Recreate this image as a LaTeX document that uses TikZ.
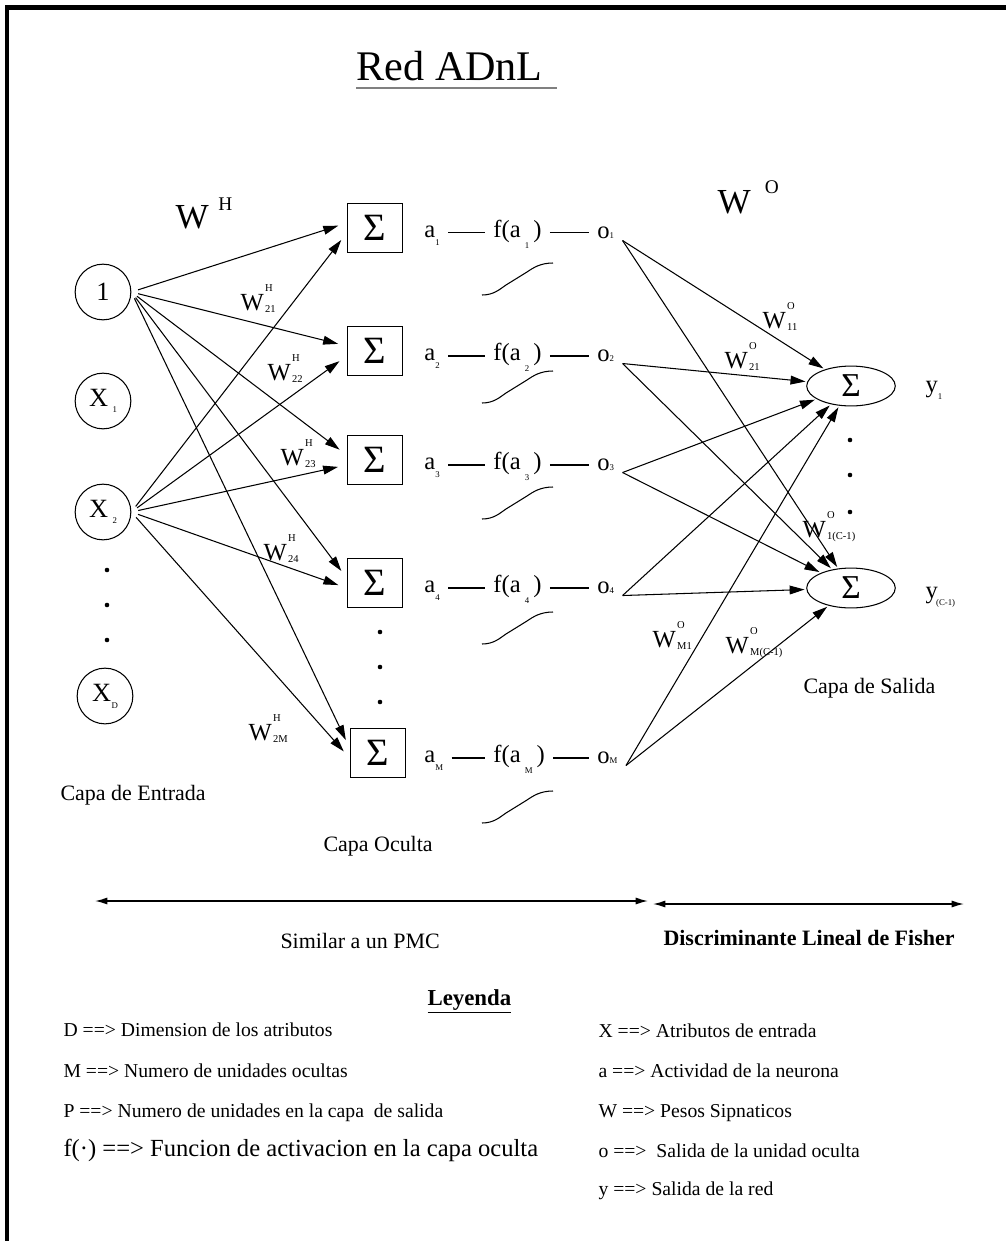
\documentclass[tikz,border=0pt]{standalone}
\usepackage{fontspec}
\setmainfont{Liberation Serif}
\usetikzlibrary{arrows.meta,shapes.geometric,positioning}

\newcommand{\fsz}[1]{\fontsize{#1}{#1}\selectfont}
\newcommand{\sbs}[2][3pt]{\raisebox{-#1}{\fsz{5}#2}}
\newcommand{\wlab}[2]{W\hspace{0.8pt}\rlap{\raisebox{10.5pt}{\fsz{6}#1}}\raisebox{-1.5pt}{\fsz{6}#2}}

\tikzset{
  neuron/.style={draw,circle,minimum size=31.7pt,inner sep=0pt,font=\fsz{15}},
  sumbox/.style={draw,minimum width=31.7pt,minimum height=27.8pt,inner sep=0pt,font=\fsz{22}},
  sumout/.style={draw,ellipse,minimum width=50.4pt,minimum height=22.7pt,inner sep=0pt,font=\fsz{19}},
  lbl/.style={anchor=base west,inner xsep=4.5pt,inner ysep=1pt,font=\fsz{14}},
  wlbl/.style={anchor=base west,inner sep=0pt,font=\fsz{14}},
  txt/.style={anchor=base west,inner sep=0pt,font=\fsz{12.5}},
  leg/.style={anchor=base west,inner sep=0pt,font=\fsz{11.2}},
  wt/.style={-{Triangle[length=8.5pt,width=5pt]},shorten <=4pt,shorten >=5pt},
  wto/.style={-{Triangle[length=8.5pt,width=5pt]},shorten >=1pt},
  dimarrow/.style={{Latex[length=7pt,width=4pt]}-{Latex[length=7pt,width=4pt]},line width=0.8pt},
}

\begin{document}
\begin{tikzpicture}[x=0.02cm,y=-0.02cm,line width=0.6pt]
\useasboundingbox (0,0) rectangle (1006,1241);
% marco
\draw[line width=0.1cm] (7,1250) -- (7,7) -- (1015,7);

% titulo
\node[anchor=base west,inner sep=0pt,font=\fsz{24}] (title) at (356,80) {Red ADnL};
\draw[gray,line width=1.4pt] ([yshift=-4.5pt]title.base west) -- ([xshift=8pt,yshift=-4.5pt]title.base east);

% capa de entrada
\node[neuron] (x0) at (103,292) {1};
\node[neuron] (x1) at (103,401) {X\,\sbs{1}};
\node[neuron] (x2) at (103,512) {X\,\sbs{2}};
\node[neuron] (xD) at (105,696) {X\kern0.3pt\sbs[4pt]{D}};
\foreach \y in {570,605,640} \fill (107,\y) circle (1.3pt);

% capa oculta
\foreach \i/\yc/\t/\xb in {1/228/263/375,2/351/371/375,3/460/487/375,4/583/612/375,M/753/791/378}{
  \node[sumbox] (h\i) at (\xb,\yc) {Σ};
  \node[lbl] (a\i) at (416,\yc+9) {a\sbs[5pt]{\i}};
  \node[lbl] (f\i) at (485,\yc+9) {f(a\,\sbs[6.5pt]{\i}\,)};
  \node[lbl] (o\i) at (589,\yc+10) {o\sbs[0pt]{\i}};
  \draw (a\i.mid east) -- (a\i.mid east -| f\i.west);
  \draw (f\i.mid east) -- (f\i.mid east -| o\i.west);
  \draw (482,\t+32) .. controls (494,\t+32) and (500,\t+26) .. (506,\t+22) -- (527,\t+9) .. controls (533,\t+5) and (540,\t) .. (553,\t);
}
\foreach \y in {632,667,702} \fill (380,\y) circle (1.3pt);

% capa de salida
\node[sumout] (s1) at (851,386) {Σ};
\node[sumout] (sC) at (851,588) {Σ};
\node[wlbl] (y1) at (925,392) {y\sbs[4.5pt]{1}};
\node[wlbl] (yC) at (925,598) {y\kern-1pt\sbs[4.5pt]{(C-1)}};
\foreach \y in {440,475,512} \fill (850,\y) circle (1.3pt);

% pesos
\node[anchor=base west,inner sep=0pt,font=\fsz{20}] (wH) at (175,228) {W\hspace{5.5pt}\raisebox{10pt}{\fsz{11}H}};
\node[anchor=base west,inner sep=0pt,font=\fsz{20}] (wO) at (717,213) {W\hspace{8pt}\raisebox{11pt}{\fsz{11}O}};
\node[wlbl] (wh21) at (240,310) {\wlab{H}{21}};
\node[wlbl] (wh22) at (267,380) {\wlab{H}{22}};
\node[wlbl] (wh23) at (280,465) {\wlab{H}{23}};
\node[wlbl] (wh24) at (263,560) {\wlab{H}{24}};
\node[wlbl] (wh2M) at (248,740) {\wlab{H}{2M}};
\node[wlbl] (wo11) at (762,328) {\wlab{O}{11}};
\node[wlbl] (wo21) at (724,368) {\wlab{O}{21}};
\node[wlbl] (wo1C) at (802,537) {\wlab{O}{1(C-1)}};
\node[wlbl] (woM1) at (652,647) {\wlab{O}{M1}};
\node[wlbl] (woMC) at (725,653) {\wlab{O}{M(C-1)}};

% conexiones
\foreach \i in {1,2,3,4,M}{
  \draw[wt] (x0.east) -- (h\i.170);
  \draw[wt] (x2.east) -- (h\i.190);
  \draw[wto] (o\i.south east) -- (s1);
  \draw[wto] (o\i.south east) -- (sC);
}

% rotulos
\node[txt] (entrada) at (60,800) {Capa de Entrada};
\node[txt] (oculta) at (323,851) {Capa Oculta};
\node[txt] (salida) at (803,693) {Capa de Salida};

\coordinate (pmcL) at (95,901);
\coordinate (pmcR) at (648,901);
\coordinate (fshL) at (653,904);
\coordinate (fshR) at (964,904);
\draw[dimarrow] (pmcL) -- (pmcR);
\draw[dimarrow] (fshL) -- (fshR);
\node[txt] (pmc) at (280,948) {Similar a un PMC};
\node[txt,font=\fsz{12.5}\bfseries] (fisher) at (663,945) {Discriminante Lineal de Fisher};

% leyenda
\node[anchor=base west,inner sep=0pt,font=\fsz{13}\bfseries] (leyenda) at (427,1005) {\underline{Leyenda}};
\node[leg] (legD) at (63,1036) {D ==> Dimension de los atributos};
\node[leg] (legM) at (63,1077) {M ==> Numero de unidades ocultas};
\node[leg] (legP) at (63,1117) {P ==> Numero de unidades en la capa\ \ de salida};
\node[leg,font=\fsz{14}] (legF) at (63,1156) {f(·) ==> Funcion de activacion en la capa oculta};
\node[leg] (legX) at (598,1037) {X ==> Atributos de entrada};
\node[leg] (legA) at (598,1077) {a ==> Actividad de la neurona};
\node[leg] (legW) at (598,1117) {W ==> Pesos Sipnaticos};
\node[leg] (legO) at (598,1157) {o ==>\ \ Salida de la unidad oculta};
\node[leg] (legY) at (598,1195) {y ==> Salida de la red};
\end{tikzpicture}
\end{document}
